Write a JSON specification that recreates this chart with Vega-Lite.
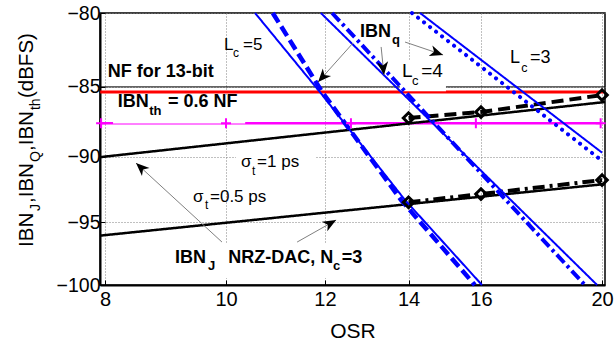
{
 "$schema": "https://vega.github.io/schema/vega-lite/v6.json",
 "width": 505,
 "height": 272,
 "autosize": {"type": "none"},
 "padding": {"left": 100, "top": 13, "right": 9, "bottom": 65},
 "background": "white",
 "config": {
  "view": {"stroke": "black", "strokeWidth": 1.5},
  "font": "Liberation Sans"
 },
 "datasets": {
  "lines": [
   {"series": "nf", "osr": 7.93, "v": -85}, {"series": "nf", "osr": 20.11, "v": -85},
   {"series": "th", "osr": 7.93, "v": -85.36}, {"series": "th", "osr": 20.11, "v": -85.36},
   {"series": "mag", "osr": 7.943, "v": -87.58}, {"series": "mag", "osr": 19.95, "v": -87.58},
   {"series": "j1", "osr": 7.93, "v": -90.04}, {"series": "j1", "osr": 20.11, "v": -86.06},
   {"series": "j05", "osr": 7.93, "v": -96.03}, {"series": "j05", "osr": 20.11, "v": -92.05},
   {"series": "j1nc", "osr": 14, "v": -87.2}, {"series": "j1nc", "osr": 16, "v": -86.77}, {"series": "j1nc", "osr": 20, "v": -85.57},
   {"series": "j05nc", "osr": 14, "v": -93.44}, {"series": "j05nc", "osr": 16, "v": -92.81}, {"series": "j05nc", "osr": 20, "v": -91.75},
   {"series": "q5", "osr": 10.55, "v": -80}, {"series": "q5", "osr": 11.89, "v": -85.36}, {"series": "q5", "osr": 13.91, "v": -93.27}, {"series": "q5", "osr": 16.03, "v": -100},
   {"series": "q5b", "osr": 10.9, "v": -80}, {"series": "q5b", "osr": 11.94, "v": -85.36}, {"series": "q5b", "osr": 13.81, "v": -93.27}, {"series": "q5b", "osr": 15.82, "v": -100},
   {"series": "q4", "osr": 11.91, "v": -80}, {"series": "q4", "osr": 19.82, "v": -100},
   {"series": "q4b", "osr": 12.16, "v": -80}, {"series": "q4b", "osr": 19.38, "v": -100},
   {"series": "q3", "osr": 14.3, "v": -80}, {"series": "q3", "osr": 20, "v": -89.71},
   {"series": "q3b", "osr": 14.09, "v": -80}, {"series": "q3b", "osr": 20, "v": -90.31}
  ],
  "plus": [
   {"osr": 7.943, "v": -87.58}, {"osr": 10, "v": -87.58}, {"osr": 12.59, "v": -87.58}, {"osr": 15.85, "v": -87.58}, {"osr": 19.95, "v": -87.58}
  ],
  "boxes": [
   {"x1": 8.12, "x2": 10.36, "y1": -85.57, "y2": -87.59},
   {"x1": 13.78, "x2": 15.0, "y1": -83.14, "y2": -85.3},
   {"x1": 10.185, "x2": 11.8, "y1": -89.22, "y2": -91.75},
   {"x1": 9.018, "x2": 12.92, "y1": -96.61, "y2": -99.43}
  ],
  "arrows": [
   {"x1": 9.926, "y1": -96.54, "x2": 8.471, "y2": -90.48, "ang": 312.6},
   {"x1": 11.4, "y1": -96.54, "x2": 12.25, "y2": -94.81, "ang": 60.6},
   {"x1": 12.64, "y1": -81.99, "x2": 11.85, "y2": -84.66, "ang": 221.9},
   {"x1": 13.31, "y1": -82.26, "x2": 13.38, "y2": -84.18, "ang": 173.9},
   {"x1": 13.91, "y1": -81.93, "x2": 14.92, "y2": -82.8, "ang": 108.9}
  ],
  "tnorm": [
   {"text": "L", "role": "a", "osr": 9.963, "v": -82.47},
   {"text": "c", "role": "a_sub", "osr": 10.13, "v": -82.94},
   {"text": "=5", "role": "a", "osr": 10.32, "v": -82.47},
   {"text": "σ", "role": "a", "osr": 10.28, "v": -90.77},
   {"text": "t", "role": "a_sub", "osr": 10.49, "v": -91.37},
   {"text": "=1 ps", "role": "a", "osr": 10.59, "v": -90.77},
   {"text": "σ", "role": "a", "osr": 9.409, "v": -93.42},
   {"text": "t", "role": "a_sub", "osr": 9.62, "v": -93.96},
   {"text": "=0.5 ps", "role": "a", "osr": 9.709, "v": -93.42},
   {"text": "L", "role": "c", "osr": 13.83, "v": -84.31},
   {"text": "c", "role": "c_sub", "osr": 14.09, "v": -84.87},
   {"text": "=4", "role": "c", "osr": 14.33, "v": -84.31},
   {"text": "L", "role": "b", "osr": 16.88, "v": -83.35},
   {"text": "c", "role": "b_sub", "osr": 17.23, "v": -83.97},
   {"text": "=3", "role": "b", "osr": 17.51, "v": -83.35}
  ],
  "tbold": [
   {"text": "NF for 13-bit", "role": "m", "osr": 8.04, "v": -84.31},
   {"text": "IBN", "role": "m", "osr": 8.19, "v": -86.41},
   {"text": "th", "role": "s", "osr": 8.68, "v": -86.98},
   {"text": "= 0.6 NF", "role": "m", "osr": 8.985, "v": -86.41},
   {"text": "IBN", "role": "m", "osr": 9.102, "v": -98.21},
   {"text": "J", "role": "s", "osr": 9.675, "v": -98.78},
   {"text": "NRZ-DAC, N", "role": "m", "osr": 10.04, "v": -98.21},
   {"text": "c", "role": "s", "osr": 12.18, "v": -98.78},
   {"text": "=3", "role": "m", "osr": 12.38, "v": -98.21},
   {"text": "IBN", "role": "m", "osr": 12.8, "v": -81.59},
   {"text": "q", "role": "s", "osr": 13.58, "v": -82.06}
  ],
  "ytitle": [
   {"text": "IBN", "role": "m", "osr": 7.006, "v": -96.93},
   {"text": "J", "role": "s", "osr": 7.096, "v": -94.11},
   {"text": ",IBN", "role": "m", "osr": 7.006, "v": -93.49},
   {"text": "Q", "role": "s", "osr": 7.096, "v": -90.4},
   {"text": ",IBN", "role": "m", "osr": 7.006, "v": -89.59},
   {"text": "th", "role": "s", "osr": 7.096, "v": -86.63},
   {"text": "(dBFS)", "role": "m", "osr": 7.006, "v": -85.78}
  ]
 },
 "encoding": {
  "x": {
   "field": "osr", "type": "quantitative", "title": "OSR",
   "scale": {"type": "log", "domain": [7.927, 20.11], "nice": false},
   "axis": {"values": [8, 10, 12, 14, 16, 20], "format": "d", "grid": true, "gridColor": "#808080", "gridDash": [1, 2], "gridWidth": 1,
    "domainColor": "black", "domainWidth": 2, "ticks": true, "tickSize": -5, "tickColor": "black", "tickWidth": 1,
    "labelFontSize": 20, "labelColor": "black", "labelPadding": 9,
    "labelFlush": false, "labelOverlap": false, "titleFontSize": 21, "titleFontWeight": "normal", "titleColor": "black", "titlePadding": 11}
  },
  "y": {
   "field": "v", "type": "quantitative", "title": null,
   "scale": {"type": "log", "domain": [-100, -80], "nice": false},
   "axis": {"values": [-100, -95, -90, -85, -80], "format": "d", "grid": true, "gridColor": "#808080", "gridDash": [1, 2], "gridWidth": 1,
    "domainColor": "black", "domainWidth": 2, "ticks": true, "tickSize": -5, "tickColor": "black", "tickWidth": 1,
    "labelFontSize": 19.5, "labelColor": "black", "labelPadding": 5,
    "labelFlush": false, "labelOverlap": false}
  }
 },
 "layer": [
  {
   "data": {"name": "lines"},
   "transform": [{"filter": {"field": "series", "oneOf": ["nf", "th", "mag"]}}],
   "mark": {"type": "line", "strokeCap": "butt"},
   "encoding": {
    "detail": {"field": "series"},
    "color": {"field": "series", "type": "nominal", "legend": null, "scale": {"type": "ordinal", "domain": ["nf", "th", "mag"], "range": ["#000000", "#ff0000", "#ff00ff"]}},
    "strokeWidth": {"field": "series", "type": "nominal", "legend": null, "scale": {"type": "ordinal", "domain": ["nf", "th", "mag"], "range": [1, 3, 2.5]}}
   }
  },
  {
   "data": {"name": "boxes"},
   "mark": {"type": "rect", "fill": "white", "stroke": null},
   "encoding": {
    "x": {"field": "x1", "type": "quantitative", "title": "OSR"},
    "x2": {"field": "x2"},
    "y": {"field": "y1", "type": "quantitative", "title": null},
    "y2": {"field": "y2"}
   }
  },
  {
   "data": {"name": "lines"},
   "transform": [{"filter": {"field": "series", "oneOf": ["j1", "j05", "j1nc", "j05nc", "q5", "q5b", "q4", "q4b", "q3"]}}],
   "mark": {"type": "line", "strokeCap": "butt"},
   "encoding": {
    "detail": {"field": "series"},
    "stroke": {"field": "series", "type": "nominal", "legend": null, "scale": {"type": "ordinal", "domain": ["j1", "j05", "j1nc", "j05nc", "q5", "q5b", "q4", "q4b", "q3"], "range": ["#000000", "#000000", "#000000", "#000000", "#0000ff", "#0000ff", "#0000ff", "#0000ff", "#0000ff"]}},
    "strokeWidth": {"field": "series", "type": "nominal", "legend": null, "scale": {"type": "ordinal", "domain": ["j1", "j05", "j1nc", "j05nc", "q5", "q5b", "q4", "q4b", "q3"], "range": [2.5, 2.5, 4, 4, 2, 4.5, 2, 4, 2]}},
    "strokeDash": {"field": "series", "type": "nominal", "legend": null, "scale": {"type": "ordinal", "domain": ["j1", "j05", "j1nc", "j05nc", "q5", "q5b", "q4", "q4b", "q3"], "range": [[1, 0], [1, 0], [12, 6], [12, 5, 3, 5], [1, 0], [11, 5], [1, 0], [11, 4, 3, 4], [1, 0]]}}
   }
  },
  {
   "data": {"name": "lines"},
   "transform": [{"filter": {"field": "series", "equal": "q3b"}}],
   "mark": {"type": "line", "strokeCap": "round", "strokeDash": [0.1, 7.5], "strokeWidth": 4, "color": "#0000ff"},
   "encoding": {}
  },
  {
   "data": {"name": "lines"},
   "transform": [{"filter": {"field": "series", "oneOf": ["j1nc", "j05nc"]}}],
   "mark": {"type": "point", "shape": "diamond", "filled": false, "size": 110, "strokeWidth": 3, "color": "black", "opacity": 1}
  },
  {
   "data": {"name": "plus"},
   "mark": {"type": "point", "shape": "M-1,0L1,0M0,-1L0,1", "filled": false, "size": 100, "strokeWidth": 2, "color": "#ff00ff", "opacity": 1}
  },
  {
   "data": {"name": "arrows"},
   "mark": {"type": "rule", "color": "#808080", "strokeWidth": 1},
   "encoding": {
    "x": {"field": "x1", "type": "quantitative", "title": "OSR"},
    "y": {"field": "y1", "type": "quantitative", "title": null},
    "x2": {"field": "x2"},
    "y2": {"field": "y2"}
   }
  },
  {
   "data": {"name": "arrows"},
   "mark": {"type": "point", "shape": "M0,0L0.42,1L0,0.72L-0.42,1Z", "filled": true, "size": 700, "color": "black", "opacity": 1},
   "encoding": {
    "x": {"field": "x2", "type": "quantitative", "title": "OSR"},
    "y": {"field": "y2", "type": "quantitative", "title": null},
    "angle": {"field": "ang", "type": "quantitative", "scale": null}
   }
  },
  {
   "data": {"name": "tnorm"},
   "mark": {"type": "text", "align": "left", "baseline": "alphabetic", "color": "black", "font": "Liberation Sans"},
   "encoding": {
    "text": {"field": "text"},
    "size": {"field": "role", "type": "nominal", "legend": null, "scale": {"type": "ordinal", "domain": ["a", "a_sub", "b", "b_sub", "c", "c_sub"], "range": [17, 12, 18, 12.5, 19, 13]}}
   }
  },
  {
   "data": {"name": "tbold"},
   "mark": {"type": "text", "align": "left", "baseline": "alphabetic", "color": "black", "fontWeight": "bold", "font": "Liberation Sans"},
   "encoding": {
    "text": {"field": "text"},
    "size": {"field": "role", "type": "nominal", "legend": null, "scale": {"type": "ordinal", "domain": ["m", "s"], "range": [18, 13]}}
   }
  },
  {
   "data": {"name": "ytitle"},
   "mark": {"type": "text", "align": "left", "baseline": "alphabetic", "angle": 270, "color": "black", "font": "Liberation Sans"},
   "encoding": {
    "text": {"field": "text"},
    "size": {"field": "role", "type": "nominal", "legend": null, "scale": {"type": "ordinal", "domain": ["m", "s"], "range": [20.5, 14]}}
   }
  }
 ],
 "resolve": {"scale": {"size": "independent", "color": "independent", "strokeWidth": "independent", "stroke": "independent"}}
}
